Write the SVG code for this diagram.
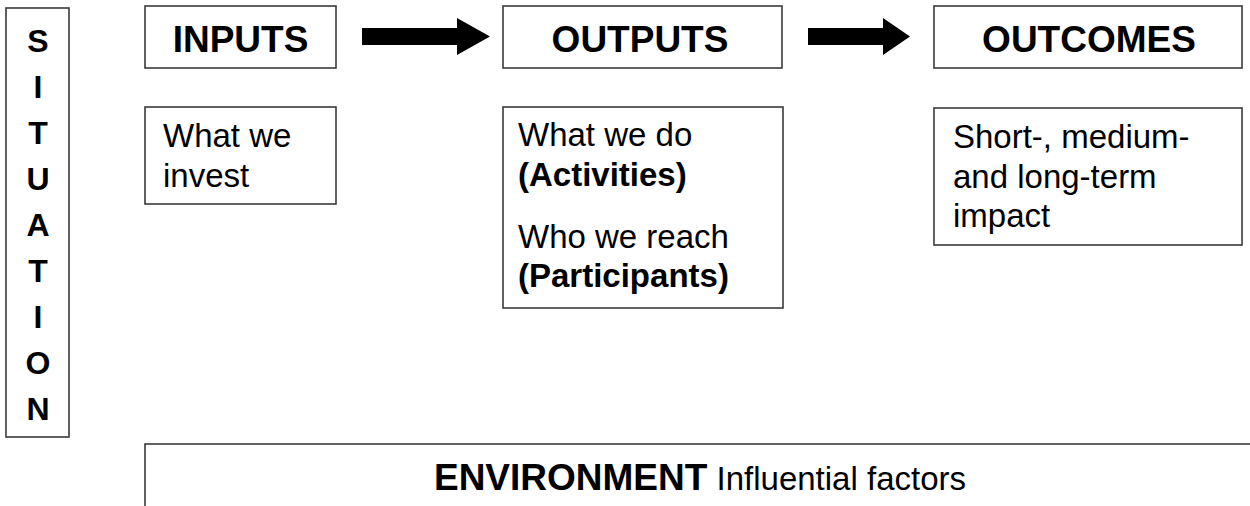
<svg xmlns="http://www.w3.org/2000/svg" width="1250" height="506" viewBox="0 0 1250 506">
  <style>
    .box { fill: #ffffff; stroke: #3a3a3a; stroke-width: 1.6; }
    .head { font-family: "Liberation Sans", Arial, sans-serif; font-weight: bold; font-size: 37px; fill: #000; text-anchor: middle; }
    .body { font-family: "Liberation Sans", Arial, sans-serif; font-size: 33px; fill: #000; }
    .b { font-weight: bold; }
    .side { font-family: "Liberation Sans", Arial, sans-serif; font-weight: bold; font-size: 32px; fill: #000; text-anchor: middle; }
    .arrow { fill: #000; }
  </style>

  <rect width="1250" height="506" fill="#ffffff"/>

  <!-- vertical situation column -->
  <g id="situation">
    <rect class="box" x="6" y="8" width="63" height="429"/>
    <text class="side" x="38" y="52">S</text>
    <text class="side" x="38" y="98">I</text>
    <text class="side" x="38" y="144">T</text>
    <text class="side" x="38" y="190">U</text>
    <text class="side" x="38" y="236">A</text>
    <text class="side" x="38" y="282">T</text>
    <text class="side" x="38" y="328">I</text>
    <text class="side" x="38" y="374">O</text>
    <text class="side" x="38" y="420">N</text>
  </g>

  <!-- column headers -->
  <g id="inputs">
    <rect class="box" x="145" y="6" width="191" height="62"/>
    <text class="head" x="240.5" y="52">INPUTS</text>
  </g>
  <g id="outputs">
    <rect class="box" x="503" y="6" width="279" height="62"/>
    <text class="head" x="640" y="52">OUTPUTS</text>
  </g>
  <g id="outcomes">
    <rect class="box" x="934" y="6" width="308" height="62"/>
    <text class="head" x="1089" y="52">OUTCOMES</text>
  </g>

  <!-- column details -->
  <g id="inputs-detail">
    <rect class="box" x="145" y="107" width="191" height="97"/>
    <text class="body" x="163" y="147">What we</text>
    <text class="body" x="163" y="187">invest</text>
  </g>
  <g id="outputs-detail">
    <rect class="box" x="503" y="107" width="280" height="201"/>
    <text class="body" x="518" y="146">What we do</text>
    <text class="body b" x="518" y="186">(Activities)</text>
    <text class="body" x="518" y="248">Who we reach</text>
    <text class="body b" x="518" y="287">(Participants)</text>
  </g>
  <g id="outcomes-detail">
    <rect class="box" x="934" y="108" width="308" height="137"/>
    <text class="body" x="953" y="148">Short-, medium-</text>
    <text class="body" x="953" y="188">and long-term</text>
    <text class="body" x="953" y="227">impact</text>
  </g>

  <!-- environment band, running off the bottom and right edges -->
  <g id="environment">
    <rect class="box" x="145" y="444" width="1130" height="100"/>
    <text class="body" x="700" y="490" text-anchor="middle"><tspan class="b" font-size="37">ENVIRONMENT</tspan> Influential factors</text>
  </g>

  <!-- block arrows between headers -->
  <g id="connectors">
    <polygon class="arrow" points="362,28 457,28 457,18 490,36.5 457,55 457,45 362,45"/>
    <polygon class="arrow" points="808,28 883,28 883,18 910,36.5 883,55 883,45 808,45"/>
  </g>
</svg>
